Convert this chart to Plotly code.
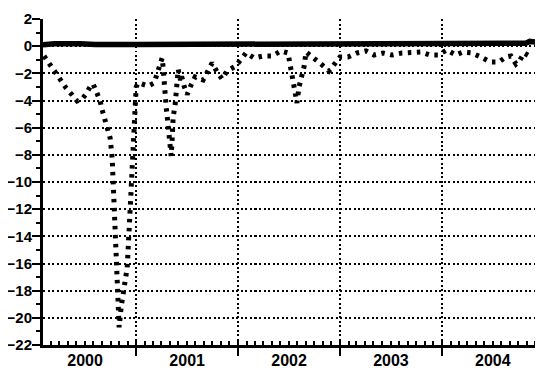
import pandas as pd
import plotly.graph_objects as go

# decimal-year time stamps and values
dot_t = [2000.098, 2000.157, 2000.206, 2000.255, 2000.314, 2000.373, 2000.422, 2000.471,
         2000.510, 2000.549, 2000.578, 2000.608, 2000.647, 2000.667, 2000.696, 2000.716,
         2000.745, 2000.765, 2000.775, 2000.784, 2000.794, 2000.804, 2000.814, 2000.824,
         2000.833, 2000.853, 2000.882, 2000.912, 2000.931, 2000.951, 2000.971, 2000.980,
         2000.990, 2001.000, 2001.020, 2001.069, 2001.118, 2001.176, 2001.206, 2001.225,
         2001.255, 2001.265, 2001.275, 2001.294, 2001.304, 2001.314, 2001.333, 2001.343,
         2001.353, 2001.363, 2001.382, 2001.392, 2001.402, 2001.412, 2001.431, 2001.451,
         2001.471, 2001.500, 2001.539, 2001.578, 2001.657, 2001.696, 2001.745, 2001.794,
         2001.843, 2001.892, 2001.961, 2002.000, 2002.020, 2002.078, 2002.157, 2002.245,
         2002.333, 2002.422, 2002.490, 2002.510, 2002.529, 2002.549, 2002.569, 2002.578,
         2002.598, 2002.627, 2002.647, 2002.667, 2002.745, 2002.814, 2002.892, 2002.941,
         2003.000, 2003.078, 2003.167, 2003.255, 2003.333, 2003.422, 2003.510, 2003.608,
         2003.696, 2003.794, 2003.882, 2003.961, 2004.049, 2004.137, 2004.206, 2004.294,
         2004.382, 2004.471, 2004.559, 2004.627, 2004.676, 2004.725, 2004.765, 2004.804,
         2004.873]
dot_v = [-0.72, -1.38, -1.97, -2.56, -3.08, -3.59, -4.04, -3.89,
         -3.52, -3.00, -2.78, -3.30, -4.04, -4.70, -5.43, -6.02,
         -6.76, -8.23, -10.37, -12.4, -14.7, -16.7, -18.2, -19.6,
         -20.7, -19.2, -17.7, -16.3, -13.5, -10.7, -8.0, -5.8,
         -4.4, -3.0, -2.7, -2.86, -2.93, -2.71, -1.97, -1.38,
         -0.87, -1.61, -3.0, -4.48, -5.14, -6.17, -7.27, -8.08,
         -6.9, -5.2, -4.33, -3.2, -2.5, -1.71, -2.37, -2.37,
         -2.96, -3.56, -2.86, -2.27, -2.49, -1.97, -1.24, -1.90,
         -2.42, -1.83, -1.53, -1.24, -1.02, -0.50, -0.87, -0.72,
         -0.72, -0.35, -0.50, -1.24, -1.97, -2.71, -3.75, -4.18,
         -3.0, -2.19, -1.53, -0.43, -0.87, -1.31, -1.83, -1.38,
         -0.80, -0.80, -0.50, -0.35, -0.65, -0.50, -0.65, -0.50,
         -0.50, -0.43, -0.65, -0.65, -0.28, -0.65, -0.43, -0.50,
         -0.80, -1.16, -1.16, -0.80, -0.72, -1.31, -1.02, -0.50,
         -0.80]

solid_t = [2000.088, 2000.20, 2000.45, 2000.60, 2001.00, 2001.45, 2001.52, 2001.60,
           2002.00, 2002.50, 2002.60, 2003.00, 2003.40, 2003.50, 2004.00, 2004.50,
           2004.82, 2004.86, 2004.92, 2004.95]
solid_v = [0.10, 0.18, 0.18, 0.12, 0.12, 0.12, 0.20, 0.12,
           0.12, 0.12, 0.18, 0.15, 0.15, 0.22, 0.22, 0.22,
           0.22, 0.35, 0.30, 0.05]

x_range = [2000.088, 2004.97]
y_range = [-22, 2]


def to_date(t):
    y = int(t)
    start = pd.Timestamp(f"{y}-01-01")
    end = pd.Timestamp(f"{y + 1}-01-01")
    return start + (end - start) * (t - y)


FONT = "Liberation Sans, Arial, sans-serif"

fig = go.Figure()
fig.add_trace(go.Scatter(
    x=[to_date(t) for t in solid_t], y=solid_v, mode="lines",
    line=dict(color="black", width=5.5), showlegend=False))
fig.add_trace(go.Scatter(
    x=[to_date(t) for t in dot_t], y=dot_v, mode="lines",
    line=dict(color="black", width=5, dash="3.5px,5.5px"), showlegend=False))

# the page adds an 8px body margin, so the figure is sized to fit the window
fig.update_layout(
    width=535, height=366,
    margin=dict(l=35, r=2, t=11, b=29, autoexpand=False),
    paper_bgcolor="white", plot_bgcolor="white",
    showlegend=False,
)
fig.update_xaxes(
    type="date", automargin=False,
    range=[to_date(x_range[0]), to_date(x_range[1])],
    dtick="M12", tick0="2000-01-01", tickformat="%Y",
    ticklabelmode="period", ticklabelstandoff=-9,
    ticks="outside", ticklen=8, tickwidth=2, tickcolor="black",
    showline=True, linewidth=3, linecolor="black",
    showgrid=True, gridcolor="black", gridwidth=2, griddash="2px,2.5px",
    zeroline=False,
    tickfont=dict(family=FONT, size=16, color="black", weight="bold"),
    minor=dict(dtick="M1", tick0="2000-01-01", ticks="inside", ticklen=4,
               tickwidth=2, tickcolor="black", showgrid=False),
)
fig.update_yaxes(
    automargin=False,
    range=y_range, dtick=2, tick0=0,
    ticks="outside", ticklen=8, tickwidth=2, tickcolor="black",
    ticklabelstandoff=-3,
    showline=True, linewidth=3, linecolor="black",
    showgrid=True, gridcolor="black", gridwidth=2, griddash="2px,2.5px",
    zeroline=False,
    tickfont=dict(family=FONT, size=15, color="black", weight="bold"),
    minor=dict(dtick=1, ticks="outside", ticklen=4, tickwidth=2,
               tickcolor="black", showgrid=False),
)

fig.write_html("out.html")
